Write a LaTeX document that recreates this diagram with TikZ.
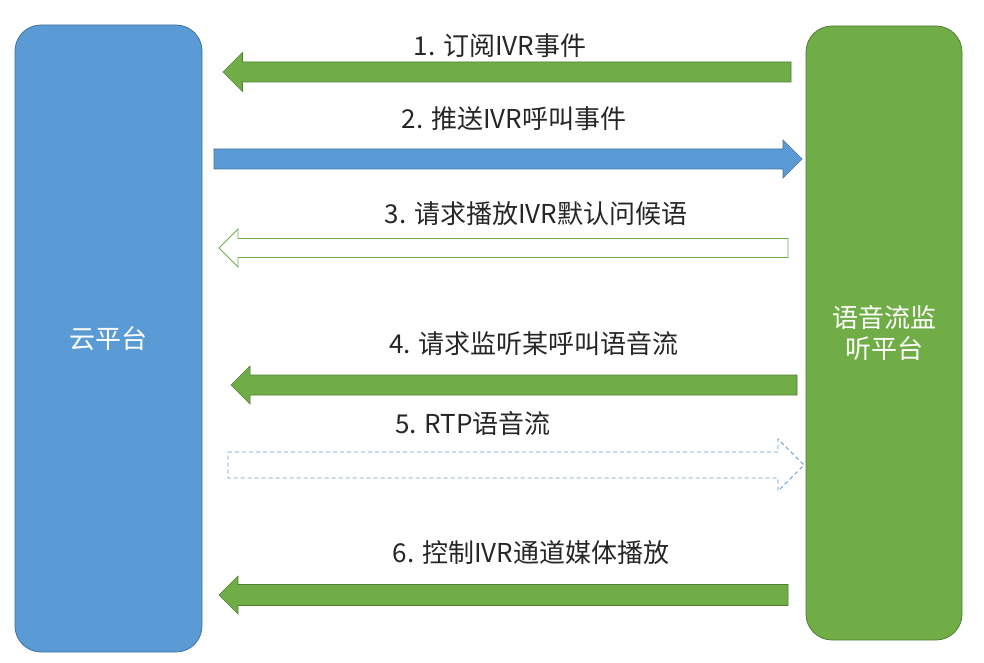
\documentclass[tikz,border=0pt]{standalone}
\usepackage{fontspec}
\setmainfont{Noto Sans CJK SC}
\usepackage{tikz}
\usetikzlibrary{positioning}
\definecolor{cloudblue}{HTML}{5B9BD5}
\definecolor{cloudbluedark}{HTML}{41719C}
\definecolor{monigreen}{HTML}{70AD47}
\definecolor{monigreendark}{HTML}{507E32}

% block arrow: [style]{tail x}{tip x}{y}{half shaft}{half head}
\newcommand{\blockarrow}[6][]{%
  \pgfmathsetmacro{\ahx}{#3>#2 ? #3-#6 : #3+#6}%
  \draw[#1] (#2,#4-#5) -- (\ahx,#4-#5) -- (\ahx,#4-#6) -- (#3,#4)
    -- (\ahx,#4+#6) -- (\ahx,#4+#5) -- (#2,#4+#5) -- cycle;
}

\begin{document}
\begin{tikzpicture}[x=1pt,y=-1pt,
  platform/.style={rectangle,rounded corners=26pt,text=white,align=center,
    font=\fontsize{26}{31}\selectfont,line width=0.8pt},
  msglabel/.style={font=\fontsize{26}{31}\selectfont,text=black!85,inner sep=0pt},
  solidgreen/.style={fill=monigreen,draw=monigreendark,line width=0.6pt},
  solidblue/.style={fill=cloudblue,draw=cloudbluedark,line width=0.6pt},
  outlinegreen/.style={fill=white,draw=monigreen,line width=0.8pt},
  dashblue/.style={fill=white,draw=cloudblue,line width=0.8pt,dash pattern=on 4pt off 3pt}]
  \useasboundingbox (0,0) rectangle (984,663);
  % Platforms
  \node[platform,fill=cloudblue,draw=cloudbluedark,minimum width=187pt,minimum height=627pt]
    (cloud) at (108.5,338.5) {云平台};
  \node[platform,fill=monigreen,draw=monigreendark,minimum width=156pt,minimum height=614pt]
    (monitor) at (884,333) {语音流监\\听平台};
  % Messages
  \node[msglabel] (lab1) at (500,46) {1. 订阅IVR事件};
  \blockarrow[solidgreen]{791}{223}{72}{10}{19.5}
  \node[msglabel] (lab2) at (514,119) {2. 推送IVR呼叫事件};
  \blockarrow[solidblue]{214}{802}{159}{10}{19}
  \node[msglabel] (lab3) at (536,214) {3. 请求播放IVR默认问候语};
  \blockarrow[outlinegreen]{788}{219}{248}{9.5}{19}
  \node[msglabel] (lab4) at (534,344) {4. 请求监听某呼叫语音流};
  \blockarrow[solidgreen]{797}{231}{385}{10}{19}
  \node[msglabel] (lab5) at (473,424) {5. RTP语音流};
  \blockarrow[dashblue]{228}{804}{465}{13}{26}
  \node[msglabel] (lab6) at (531,553) {6. 控制IVR通道媒体播放};
  \blockarrow[solidgreen]{788}{219}{595}{10.5}{19}
\end{tikzpicture}
\end{document}
